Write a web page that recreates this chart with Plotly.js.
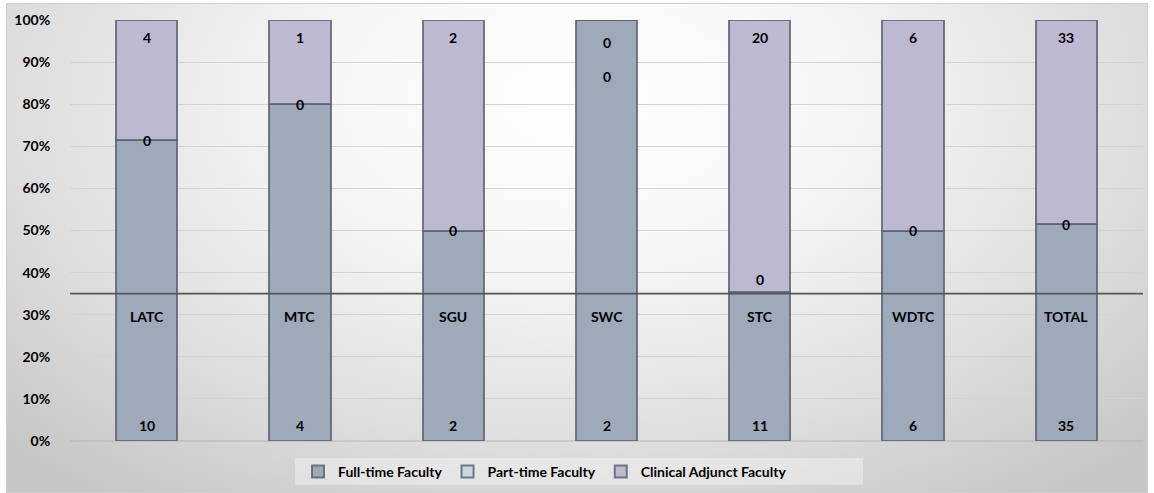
<!DOCTYPE html>
<html><head><meta charset="utf-8">
<script src="https://cdn.plot.ly/plotly-3.0.1.min.js"></script>
<style>
html,body{margin:0;padding:0;background:#fff;}
#wrap{position:relative;width:1154px;height:493px;overflow:hidden;}
#bg{position:absolute;left:6px;top:3px;width:1142px;height:490px;border:1px solid #cfcfcf;box-sizing:border-box;
background:radial-gradient(ellipse 70% 100% at 50% 20%, #ffffff 0%, #f5f5f5 35%, #dedede 70%, #c6c6c6 100%);}
#chart{position:absolute;left:0;top:0;width:1154px;height:493px;}
</style></head>
<body><div id="wrap"><div id="bg"></div><div id="chart"></div></div>
<script>
// ---- data ----
const categories = ['LATC','MTC','SGU','SWC','STC','WDTC','TOTAL'];
const fullTime   = [10, 4, 2, 2, 11, 6, 35];
const partTime   = [0, 0, 0, 0, 0, 0, 0];
const clinical   = [4, 1, 2, 0, 20, 6, 33];
const seriesNames = ['Full-time Faculty','Part-time Faculty','Clinical Adjunct Faculty'];
const yTickVals  = [0,0.1,0.2,0.3,0.4,0.5,0.6,0.7,0.8,0.9,1];
const yTickText  = ['0%','10%','20%','30%','40%','50%','60%','70%','80%','90%','100%'];
const axisCross  = 0.35;

// ---- style ----
const FONT = 'Lato, "Open Sans", sans-serif';
const colors = ['#9ea9ba','#c9d9e4','#bdb9d1'];
const edge = 'rgba(95,100,115,0.85)';
const ptShift = [0,0,0,-56,12,0,0];     // pixel offsets of part-time labels
const clShift = [-17,-17,-17,-22,-17,-17,-17];

const totals = categories.map((c,i)=>fullTime[i]+partTime[i]+clinical[i]);
const mk = (name, y, color) => ({
  type:'bar', name, x:categories, y, width:0.4,
  marker:{color, line:{color:edge, width:2}},
  hoverinfo:'skip'
});
const traces = [
  mk(seriesNames[0], fullTime, colors[0]),
  mk(seriesNames[1], partTime, colors[1]),
  mk(seriesNames[2], clinical, colors[2])
];

const lf = {family:FONT, size:14, color:'#000', weight:700};
const ann = [];
categories.forEach((c,i)=>{
  const t = totals[i];
  ann.push({x:c, y:0, text:String(fullTime[i]), showarrow:false, yshift:16, font:lf});
  ann.push({x:c, y:(fullTime[i]+partTime[i])/t, text:String(partTime[i]), showarrow:false, yshift:ptShift[i], font:lf});
  ann.push({x:c, y:1, text:String(clinical[i]), showarrow:false, yshift:clShift[i], font:lf});
  ann.push({x:c, y:axisCross, text:c, showarrow:false, yshift:-23, font:lf});
});

const pxX = p => (p-70)/1073, pxY = p => (441-p)/421;
const layout = {
  width:1154, height:493,
  margin:{l:70, r:11, t:20, b:52},
  paper_bgcolor:'rgba(0,0,0,0)', plot_bgcolor:'rgba(0,0,0,0)',
  barmode:'stack', barnorm:'fraction',
  font:{family:FONT, size:14, color:'#000'},
  xaxis:{showticklabels:false, showgrid:false, zeroline:false, showline:false, ticks:'', fixedrange:true},
  yaxis:{range:[0,1], tickvals:yTickVals, ticktext:yTickText, showgrid:true, gridcolor:'#d3d3d3', gridwidth:1,
         zeroline:false, showline:false, ticks:'outside', ticklen:16, tickcolor:'rgba(0,0,0,0)',
         tickfont:{family:FONT, size:14, weight:700, color:'#000'}, fixedrange:true},
  showlegend:true,
  legend:{orientation:'h', xref:'container', yref:'container', x:545/1154, xanchor:'center',
          y:1-472/493, yanchor:'middle', traceorder:'normal',
          bgcolor:'rgba(0,0,0,0)', font:{family:FONT, size:14, weight:700, color:'#000'}, itemwidth:30},
  shapes:[
    {type:'rect', xref:'paper', yref:'paper', x0:pxX(295), x1:pxX(863), y0:pxY(485), y1:pxY(458),
     fillcolor:'rgba(255,255,255,0.35)', line:{width:0}, layer:'below'},
    {type:'line', xref:'paper', yref:'paper', x0:0, x1:1, y0:0, y1:0, line:{color:'#b5b5b5', width:1}, layer:'below'},
    {type:'line', xref:'paper', yref:'y', x0:0, x1:1, y0:axisCross, y1:axisCross, line:{color:'#555555', width:1.6}}
  ],
  annotations:ann
};
Plotly.newPlot('chart', traces, layout, {displayModeBar:false, staticPlot:true});
</script>
</body></html>
